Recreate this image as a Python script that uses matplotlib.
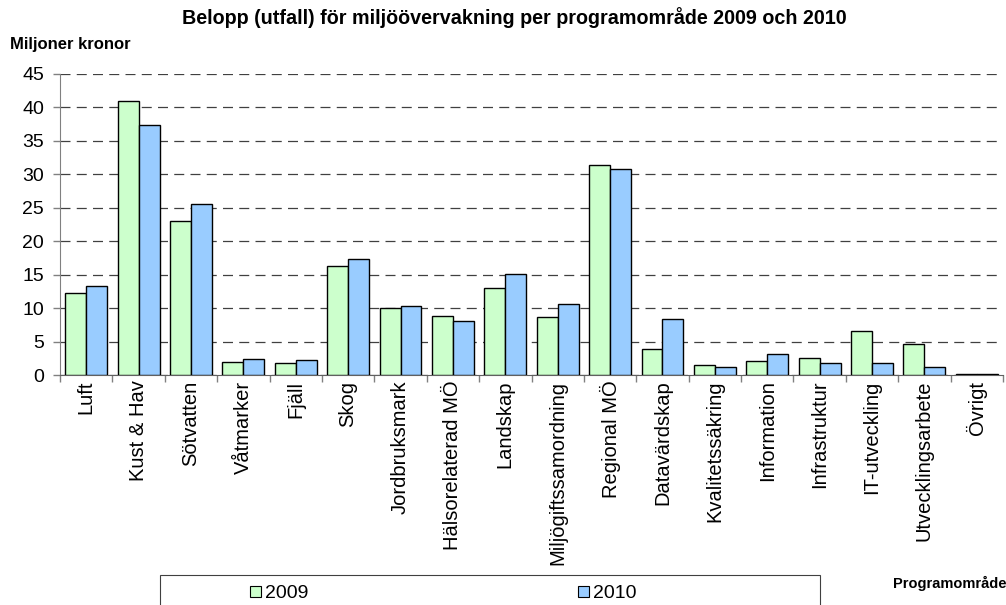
import numpy as np
import matplotlib
matplotlib.use('Agg')
import matplotlib.pyplot as plt
from matplotlib.patches import Rectangle, Patch

plt.rcParams['font.family'] = ['Liberation Sans', 'DejaVu Sans']

categories = ['Luft', 'Kust & Hav', 'Sötvatten', 'Våtmarker', 'Fjäll', 'Skog',
              'Jordbruksmark', 'Hälsorelaterad MÖ', 'Landskap', 'Miljögiftssamordning',
              'Regional MÖ', 'Datavärdskap', 'Kvalitetssäkring', 'Information',
              'Infrastruktur', 'IT-utveckling', 'Utvecklingsarbete', 'Övrigt']
values_2009 = [12.2, 41.0, 23.0, 1.9, 1.75, 16.35, 10.0, 8.8, 13.05, 8.6,
               31.35, 3.9, 1.45, 2.15, 2.6, 6.6, 4.6, 0.15]
values_2010 = [13.35, 37.4, 25.5, 2.45, 2.2, 17.35, 10.3, 8.1, 15.05, 10.65,
               30.8, 8.3, 1.2, 3.2, 1.75, 1.75, 1.2, 0.15]
years = ['2009', '2010']
colors = ['#CCFFCC', '#99CCFF']

fig = plt.figure(figsize=(10.06, 6.05), dpi=100)
ax = fig.add_axes([60 / 1006, 1 - 375 / 605, 943 / 1006, 301 / 605])

x = np.arange(len(categories))
w = 0.4
ax.bar(x - w / 2, values_2009, w, color=colors[0], edgecolor='black', linewidth=1.0, zorder=3)
ax.bar(x + w / 2, values_2010, w, color=colors[1], edgecolor='black', linewidth=1.0, zorder=3)

ax.set_xlim(-0.5, len(categories) - 0.5)
ax.set_ylim(0, 45)
ax.set_yticks(np.arange(0, 46, 5))
ax.tick_params(axis='y', labelsize=14, length=5, width=1, color='#808080', pad=6.5)
ax.set_xticks(x)
ax.set_xticklabels(categories, rotation=90, fontsize=14.5)
ax.tick_params(axis='x', which='major', length=0, pad=4)
ax.set_xticks(np.arange(-0.5, len(categories), 1), minor=True)
ax.tick_params(axis='x', which='minor', length=5, width=1, color='#808080')

ax.grid(axis='y', color='#404040', linestyle=(0, (8, 5)), linewidth=0.9, zorder=0)
for s in ['top', 'right']:
    ax.spines[s].set_visible(False)
ax.spines['left'].set_color('#808080')
ax.spines['bottom'].set_color('#606060')

fig.text(514 / 1006, 1 - 18 / 605, 'Belopp (utfall) för miljöövervakning per programområde 2009 och 2010',
         ha='center', va='center', fontsize=14.2, fontweight='bold')
fig.text(10 / 1006, 1 - 45 / 605, 'Miljoner kronor', ha='left', va='center',
         fontsize=12, fontweight='bold')
fig.text(893 / 1006, 1 - 583 / 605, 'Programområde', ha='left', va='center',
         fontsize=10.5, fontweight='bold')

# legend frame, running off the bottom edge
fig.patches.append(Rectangle((160 / 1006, -0.02), 660 / 1006, (605 - 575) / 605 + 0.02,
                             transform=fig.transFigure, facecolor='white',
                             edgecolor='#404040', linewidth=0.8))
handles = [Patch(facecolor=c, edgecolor='black', linewidth=0.8) for c in colors]
fig.legend(handles, years, loc='center left', ncol=2, frameon=False,
           bbox_to_anchor=(250 / 1006, 1 - 594 / 605), fontsize=14,
           handlelength=0.55, handleheight=0.55, handletextpad=0.2,
           columnspacing=13.9, borderpad=0, borderaxespad=0)

fig.savefig('out.png', dpi=100)
